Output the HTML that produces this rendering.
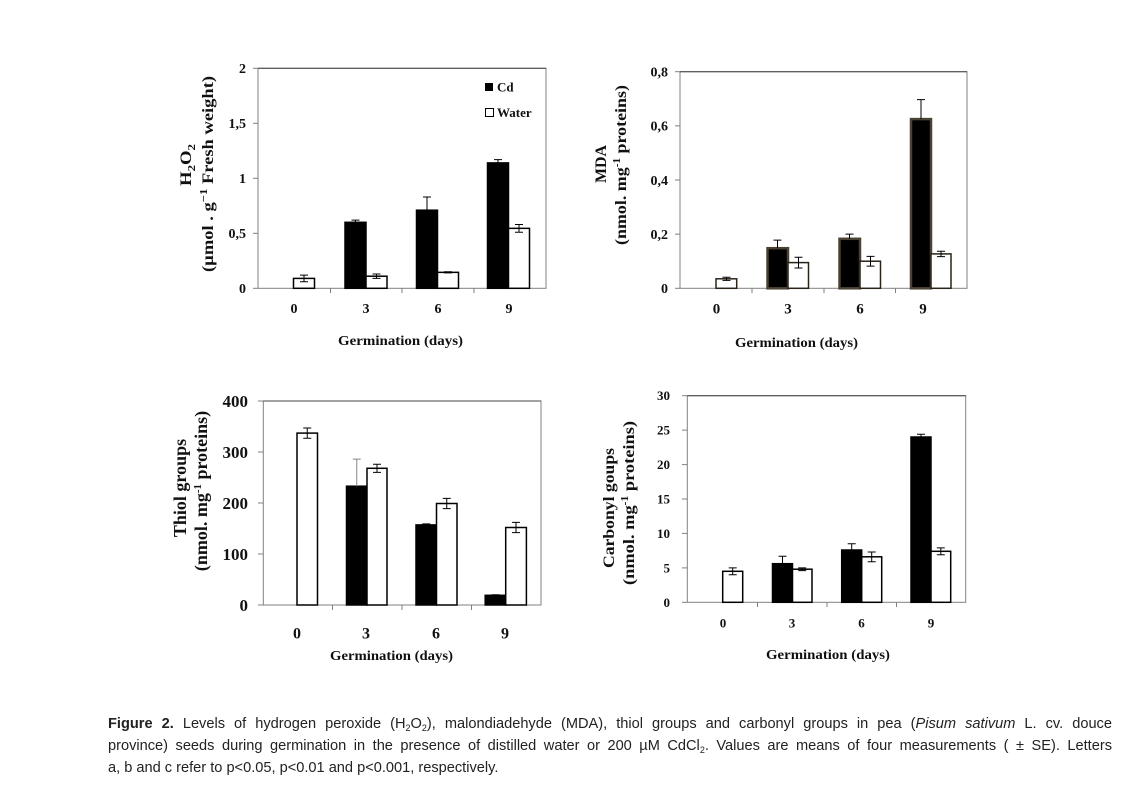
<!DOCTYPE html>
<html><head><meta charset="utf-8"><style>
html,body{margin:0;padding:0;background:#fff;}
body{width:1132px;height:785px;position:relative;overflow:hidden;}
svg{position:absolute;left:0;top:0;}
.cap{position:absolute;left:108px;width:1004px;font-family:"Liberation Sans",sans-serif;font-size:14.6px;color:#222;white-space:nowrap;line-height:22px;}
.j{text-align:justify;text-align-last:justify;}
sub{font-size:9px;vertical-align:-3px;line-height:0;}
</style></head><body>
<svg width="1132" height="785" viewBox="0 0 1132 785" font-family="'Liberation Serif',serif" font-weight="bold">
<!-- ================= Chart 1 H2O2 ================= -->
<g>
<rect x="258" y="68.3" width="288" height="220" fill="none" stroke="#808080" stroke-width="1"/>
<line x1="258" y1="68.3" x2="546" y2="68.3" stroke="#444" stroke-width="1"/>
<g stroke="#808080" stroke-width="1">
<line x1="253" y1="68.3" x2="258" y2="68.3"/><line x1="253" y1="123.3" x2="258" y2="123.3"/><line x1="253" y1="178.3" x2="258" y2="178.3"/><line x1="253" y1="233.3" x2="258" y2="233.3"/><line x1="253" y1="288.3" x2="258" y2="288.3"/>
<line x1="330.5" y1="288.3" x2="330.5" y2="293"/><line x1="402" y1="288.3" x2="402" y2="293"/><line x1="474" y1="288.3" x2="474" y2="293"/>
</g>
<g font-size="14" text-anchor="end" fill="#111">
<text x="246" y="73">2</text><text x="246" y="128">1,5</text><text x="246" y="183">1</text><text x="246" y="238">0,5</text><text x="246" y="293">0</text>
</g>
<g font-size="14" text-anchor="middle" fill="#111">
<text x="294" y="313">0</text><text x="366" y="313">3</text><text x="438" y="313">6</text><text x="509" y="313">9</text>
</g>
<text x="338" y="345" font-size="14" textLength="125" lengthAdjust="spacingAndGlyphs" fill="#111">Germination (days)</text>
<g font-size="16" text-anchor="middle" fill="#111">
<text transform="translate(191,165) rotate(-90)" textLength="42" lengthAdjust="spacingAndGlyphs">H<tspan font-size="11" dy="4">2</tspan><tspan dy="-4">O</tspan><tspan font-size="11" dy="4">2</tspan></text>
<text transform="translate(213,174) rotate(-90)" textLength="196" lengthAdjust="spacingAndGlyphs">(µmol . g<tspan font-size="11" dy="-6">−1</tspan><tspan dy="6"> Fresh weight)</tspan></text>
</g>
<!-- bars -->
<g stroke="#000" stroke-width="1.5">
<rect x="293.5" y="278.4" width="21" height="9.9" fill="#fff"/>
<rect x="345" y="222.3" width="21" height="66" fill="#000"/>
<rect x="366" y="276.2" width="21" height="12.1" fill="#fff"/>
<rect x="416.5" y="210.2" width="21" height="78.1" fill="#000"/>
<rect x="437.5" y="272.35" width="21" height="15.95" fill="#fff"/>
<rect x="487.5" y="162.9" width="21" height="125.4" fill="#000"/>
<rect x="508.5" y="228.35" width="21" height="59.95" fill="#fff"/>
</g>
<g stroke="#000" stroke-width="1" fill="none">
<path d="M304 281.7V275.1M300 281.7h8M300 275.1h8"/>
<path d="M355.5 222.3V220.1M351.5 220.1h8"/>
<path d="M376.5 278.4V274M372.5 278.4h8M372.5 274h8"/>
<path d="M427 210.2V197M423 197h8"/>
<path d="M448 272.9V271.8M444 272.9h8M444 271.8h8"/>
<path d="M498 162.9V159.6M494 159.6h8"/>
<path d="M519 232.2V224.5M515 232.2h8M515 224.5h8"/>
</g>
<!-- legend -->
<rect x="485" y="83" width="8" height="8" fill="#000"/>
<text x="497" y="91.5" font-size="13" fill="#111">Cd</text>
<rect x="485.5" y="108.5" width="8" height="8" fill="#fff" stroke="#000" stroke-width="1"/>
<text x="497" y="117" font-size="13" fill="#111">Water</text>
</g>

<!-- ================= Chart 2 MDA ================= -->
<g>
<rect x="680" y="71.7" width="287" height="216.6" fill="none" stroke="#808080" stroke-width="1"/>
<line x1="680" y1="71.7" x2="967" y2="71.7" stroke="#444" stroke-width="1"/>
<g stroke="#808080" stroke-width="1">
<line x1="675" y1="71.7" x2="680" y2="71.7"/><line x1="675" y1="125.85" x2="680" y2="125.85"/><line x1="675" y1="180" x2="680" y2="180"/><line x1="675" y1="234.15" x2="680" y2="234.15"/><line x1="675" y1="288.3" x2="680" y2="288.3"/>
<line x1="752" y1="288.3" x2="752" y2="293"/><line x1="824" y1="288.3" x2="824" y2="293"/><line x1="895.5" y1="288.3" x2="895.5" y2="293"/>
</g>
<g font-size="14" text-anchor="end" fill="#111">
<text x="668" y="76.5">0,8</text><text x="668" y="130.7">0,6</text><text x="668" y="184.8">0,4</text><text x="668" y="239">0,2</text><text x="668" y="293.1">0</text>
</g>
<g font-size="15" text-anchor="middle" fill="#111">
<text x="716.5" y="313.5">0</text><text x="788" y="313.5">3</text><text x="860" y="313.5">6</text><text x="923" y="313.5">9</text>
</g>
<text x="735" y="347" font-size="14" textLength="123" lengthAdjust="spacingAndGlyphs" fill="#111">Germination (days)</text>
<g font-size="16" text-anchor="middle" fill="#111">
<text transform="translate(606,164) rotate(-90)" textLength="38" lengthAdjust="spacingAndGlyphs">MDA</text>
<text transform="translate(626,165) rotate(-90)" textLength="160" lengthAdjust="spacingAndGlyphs">(nmol. mg<tspan font-size="10" dy="-6">-1</tspan><tspan dy="6"> proteins)</tspan></text>
</g>
<g>
<rect x="716" y="278.8" width="20.7" height="9.5" fill="#fff" stroke="#2a2418" stroke-width="1.5"/>
<rect x="767.5" y="248.2" width="20.5" height="40.1" fill="#000" stroke="#4a4232" stroke-width="2.5"/>
<rect x="788" y="262.6" width="20.5" height="25.7" fill="#fff" stroke="#2a2418" stroke-width="1.5"/>
<rect x="839.5" y="238.8" width="20.5" height="49.5" fill="#000" stroke="#4a4232" stroke-width="2.5"/>
<rect x="860" y="261.2" width="20.5" height="27.1" fill="#fff" stroke="#2a2418" stroke-width="1.5"/>
<rect x="911" y="119.1" width="20" height="169.2" fill="#000" stroke="#4a4232" stroke-width="2.5"/>
<rect x="931" y="253.9" width="20" height="34.4" fill="#fff" stroke="#2a2418" stroke-width="1.5"/>
</g>
<g stroke="#000" stroke-width="1" fill="none">
<path d="M726.5 280.4V277.2M722.5 280.4h8M722.5 277.2h8"/>
<path d="M777.5 248.2V240.1M773.5 240.1h8"/>
<path d="M798.5 268V257.2M794.5 268h8M794.5 257.2h8"/>
<path d="M849.5 238.8V234.15M845.5 234.15h8"/>
<path d="M870.5 266.1V256.4M866.5 266.1h8M866.5 256.4h8"/>
<path d="M921 119.1V99.6M917 99.6h8"/>
<path d="M941 256.6V251.2M937 256.6h8M937 251.2h8"/>
</g>
</g>

<!-- ================= Chart 3 Thiol ================= -->
<g>
<rect x="263.3" y="401" width="277.7" height="204" fill="none" stroke="#808080" stroke-width="1"/>
<line x1="263.3" y1="401" x2="541" y2="401" stroke="#444" stroke-width="1"/>
<g stroke="#808080" stroke-width="1">
<line x1="258" y1="401" x2="263.3" y2="401"/><line x1="258" y1="452" x2="263.3" y2="452"/><line x1="258" y1="503" x2="263.3" y2="503"/><line x1="258" y1="554" x2="263.3" y2="554"/><line x1="258" y1="605" x2="263.3" y2="605"/>
<line x1="332.5" y1="605" x2="332.5" y2="610"/><line x1="402" y1="605" x2="402" y2="610"/><line x1="471.5" y1="605" x2="471.5" y2="610"/>
</g>
<g font-size="17" text-anchor="end" fill="#111">
<text x="248" y="407">400</text><text x="248" y="458">300</text><text x="248" y="509">200</text><text x="248" y="560">100</text><text x="248" y="611">0</text>
</g>
<g font-size="16" text-anchor="middle" fill="#111">
<text x="297" y="638.5">0</text><text x="366" y="638.5">3</text><text x="436" y="638.5">6</text><text x="505" y="638.5">9</text>
</g>
<text x="330" y="660" font-size="14" textLength="123" lengthAdjust="spacingAndGlyphs" fill="#111">Germination (days)</text>
<g font-size="18" text-anchor="middle" fill="#111">
<text transform="translate(186,488) rotate(-90)">Thiol groups</text>
<text transform="translate(207,491) rotate(-90)">(nmol. mg<tspan font-size="11" dy="-6">-1</tspan><tspan dy="6"> proteins)</tspan></text>
</g>
<g stroke="#000" stroke-width="1.5">
<rect x="297" y="433.1" width="20.5" height="171.9" fill="#fff"/>
<rect x="346.5" y="486.2" width="20.5" height="118.8" fill="#000"/>
<rect x="367" y="468.3" width="20" height="136.7" fill="#fff"/>
<rect x="416" y="524.9" width="20.5" height="80.1" fill="#000"/>
<rect x="436.5" y="503.5" width="20.5" height="101.5" fill="#fff"/>
<rect x="485.2" y="595.3" width="20.5" height="9.7" fill="#000"/>
<rect x="505.7" y="527.5" width="20.7" height="77.5" fill="#fff"/>
</g>
<g stroke="#000" stroke-width="1" fill="none">
<path d="M307.25 438.2V428M303.25 438.2h8M303.25 428h8"/>
<path d="M356.75 486.2V459.1M352.75 459.1h8" stroke="#888"/>
<path d="M377 472.4V464.2M373 472.4h8M373 464.2h8"/>
<path d="M426.25 524.9V523.9M422.25 523.9h8"/>
<path d="M446.75 508.6V498.4M442.75 508.6h8M442.75 498.4h8"/>
<path d="M495.45 595.3V594.8M491.45 594.8h8"/>
<path d="M516 532.6V522.4M512 532.6h8M512 522.4h8"/>
</g>
</g>

<!-- ================= Chart 4 Carbonyl ================= -->
<g>
<rect x="687.3" y="395.7" width="278.4" height="206.6" fill="none" stroke="#808080" stroke-width="1"/>
<line x1="687.3" y1="395.7" x2="965.7" y2="395.7" stroke="#444" stroke-width="1"/>
<g stroke="#808080" stroke-width="1">
<line x1="682" y1="395.7" x2="687.3" y2="395.7"/><line x1="682" y1="430.1" x2="687.3" y2="430.1"/><line x1="682" y1="464.6" x2="687.3" y2="464.6"/><line x1="682" y1="499" x2="687.3" y2="499"/><line x1="682" y1="533.4" x2="687.3" y2="533.4"/><line x1="682" y1="567.9" x2="687.3" y2="567.9"/><line x1="682" y1="602.3" x2="687.3" y2="602.3"/>
<line x1="757.5" y1="602.3" x2="757.5" y2="607"/><line x1="827" y1="602.3" x2="827" y2="607"/><line x1="896.5" y1="602.3" x2="896.5" y2="607"/>
</g>
<g font-size="13" text-anchor="end" fill="#111">
<text x="670" y="400.2">30</text><text x="670" y="434.6">25</text><text x="670" y="469.1">20</text><text x="670" y="503.5">15</text><text x="670" y="537.9">10</text><text x="670" y="572.4">5</text><text x="670" y="606.8">0</text>
</g>
<g font-size="13" text-anchor="middle" fill="#111">
<text x="723" y="627.5">0</text><text x="792" y="627.5">3</text><text x="861.5" y="627.5">6</text><text x="931" y="627.5">9</text>
</g>
<text x="766" y="659" font-size="14" textLength="124" lengthAdjust="spacingAndGlyphs" fill="#111">Germination (days)</text>
<g font-size="16" text-anchor="middle" fill="#111">
<text transform="translate(614,508) rotate(-90)" textLength="120" lengthAdjust="spacingAndGlyphs">Carbonyl goups</text>
<text transform="translate(634,503) rotate(-90)" textLength="164" lengthAdjust="spacingAndGlyphs">(nmol. mg<tspan font-size="10" dy="-6">-1</tspan><tspan dy="6"> proteins)</tspan></text>
</g>
<g stroke="#000" stroke-width="1.5">
<rect x="722.7" y="571.3" width="20" height="31" fill="#fff"/>
<rect x="772.5" y="563.7" width="20" height="38.6" fill="#000"/>
<rect x="792.5" y="569.2" width="19.5" height="33.1" fill="#fff"/>
<rect x="841.7" y="550" width="20" height="52.3" fill="#000"/>
<rect x="861.7" y="556.8" width="20" height="45.5" fill="#fff"/>
<rect x="911" y="437" width="20" height="165.3" fill="#000"/>
<rect x="931" y="551.3" width="19.7" height="51" fill="#fff"/>
</g>
<g stroke="#000" stroke-width="1" fill="none">
<path d="M732.7 574.8V567.9M728.7 574.8h8M728.7 567.9h8"/>
<path d="M782.5 563.7V556.2M778.5 556.2h8"/>
<path d="M802.2 570.6V567.9M798.2 570.6h8M798.2 567.9h8"/>
<path d="M851.7 550V543.8M847.7 543.8h8"/>
<path d="M871.7 561.7V552M867.7 561.7h8M867.7 552h8"/>
<path d="M921 437V434.3M917 434.3h8"/>
<path d="M940.8 554.8V547.9M936.8 554.8h8M936.8 547.9h8"/>
</g>
</g>
</svg>

<div class="cap j" style="top:713px;"><b>Figure 2.</b> Levels of hydrogen peroxide (H<sub>2</sub>O<sub>2</sub>), malondiadehyde (MDA), thiol groups and carbonyl groups in pea (<i>Pisum sativum</i> L. cv. douce</div>
<div class="cap j" style="top:735px;">province) seeds during germination in the presence of distilled water or 200 µM CdCl<sub>2</sub>. Values are means of four measurements ( ± SE). Letters</div>
<div class="cap" style="top:757px;">a, b and c refer to p&lt;0.05, p&lt;0.01 and p&lt;0.001, respectively.</div>
</body></html>
